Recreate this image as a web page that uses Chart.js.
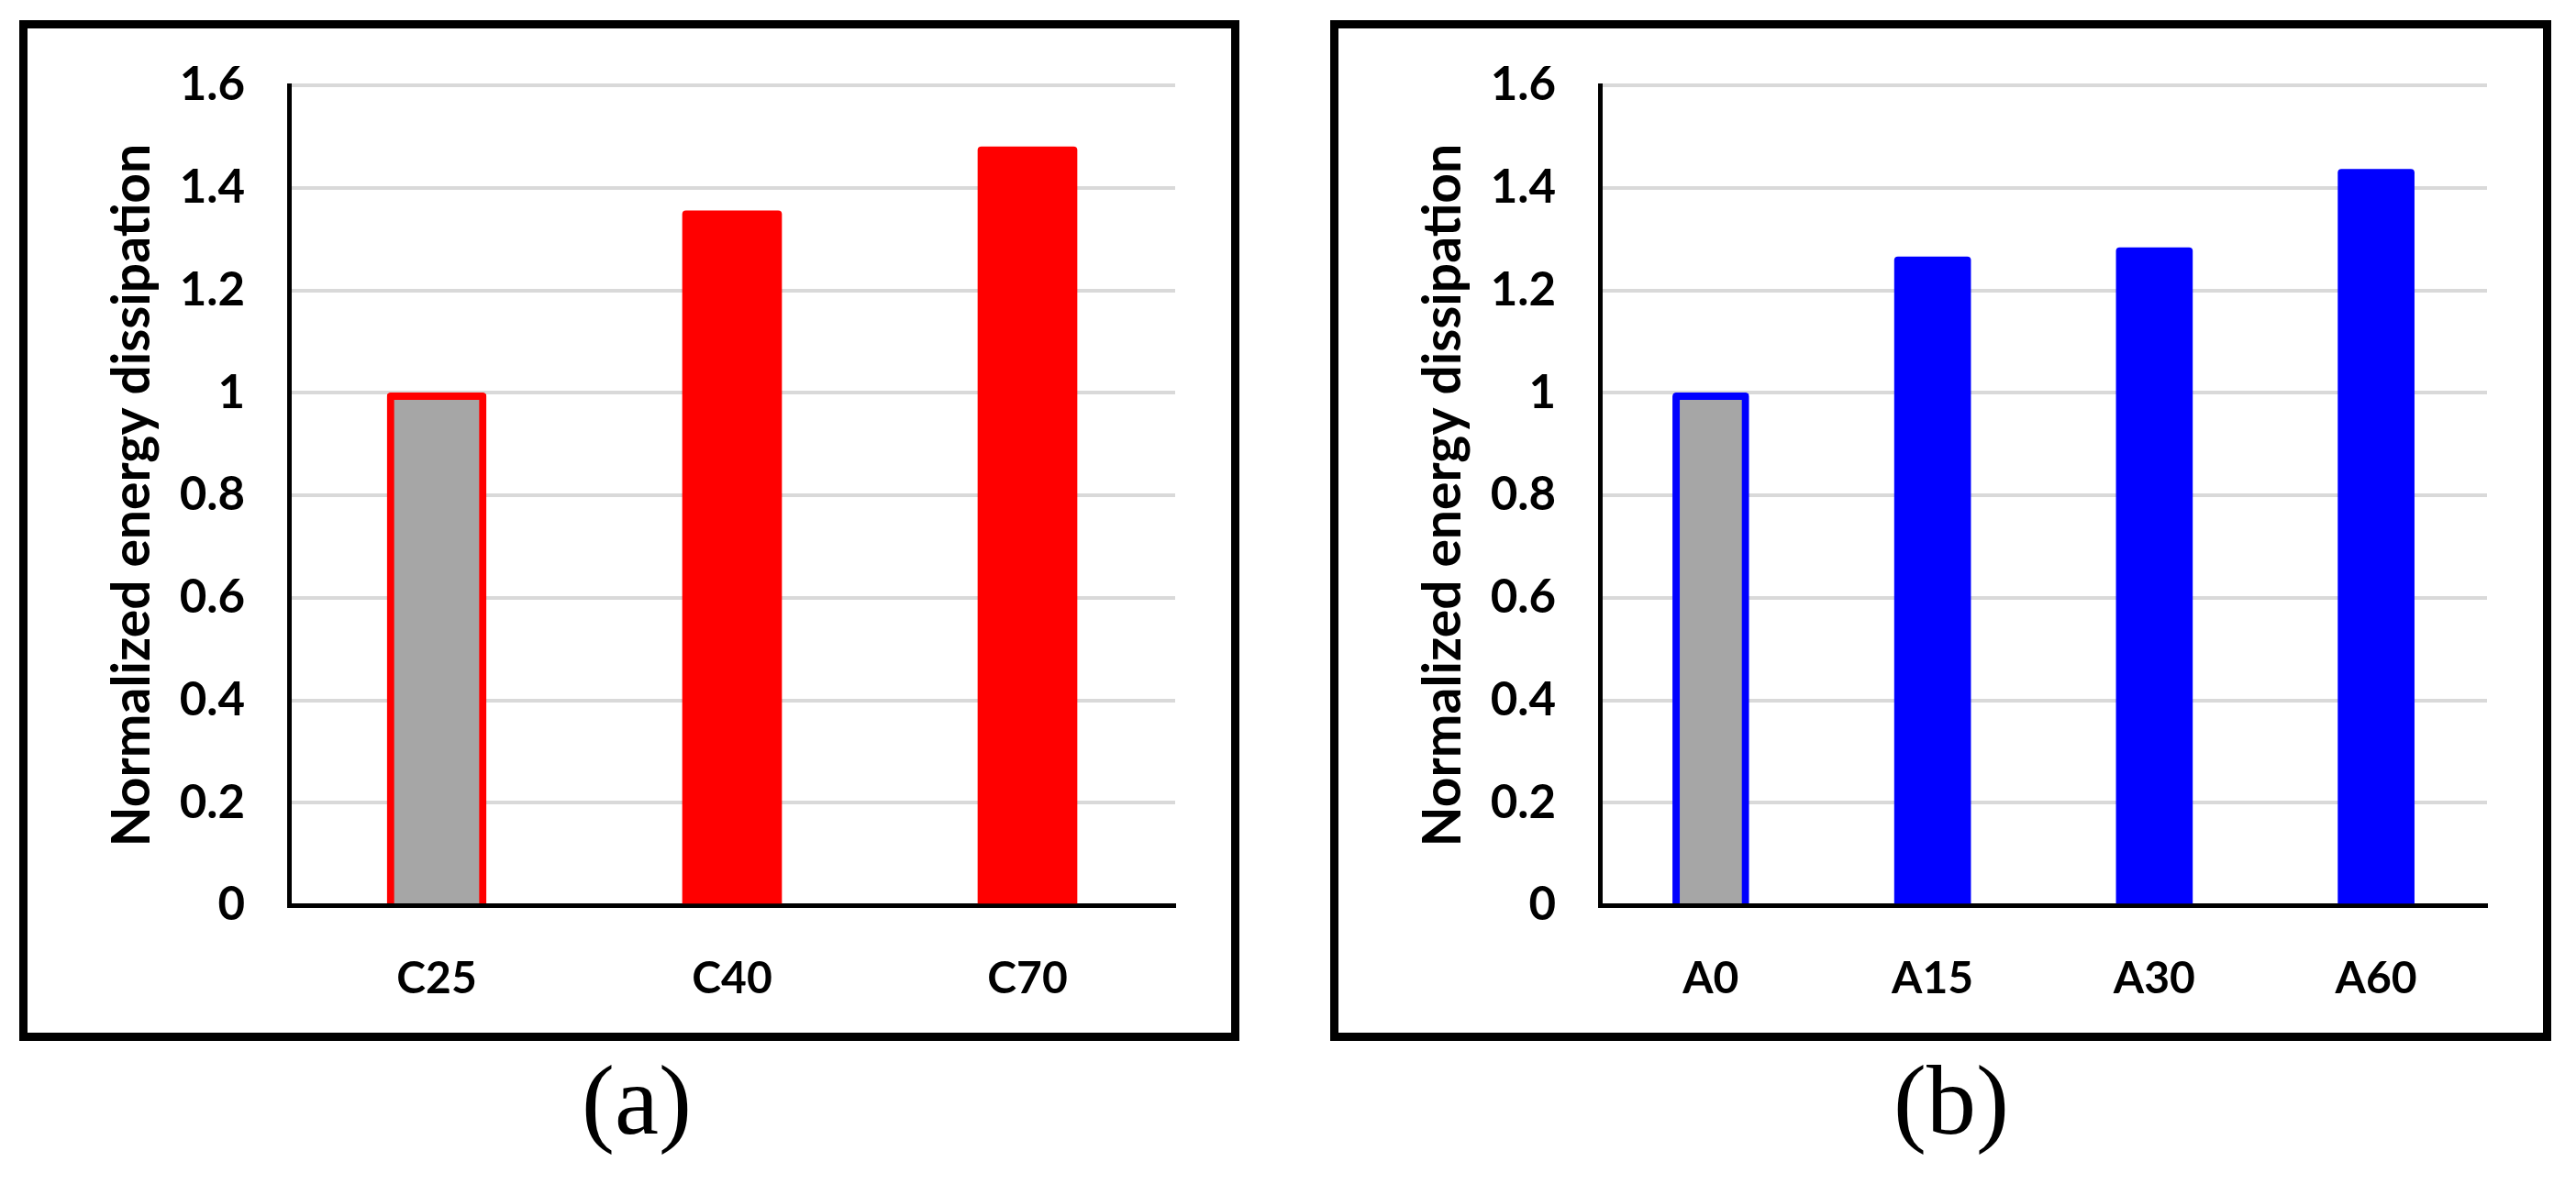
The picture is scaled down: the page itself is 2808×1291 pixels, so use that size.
<!DOCTYPE html>
<html><head><meta charset="utf-8">
<script src="https://cdn.jsdelivr.net/npm/chart.js@4"></script>
<style>
html,body{margin:0;padding:0;background:#fff;}
body{width:2808px;height:1291px;position:relative;overflow:hidden;}
.box{position:absolute;border:9px solid #000;box-sizing:border-box;background:#fff;}
.inner{position:absolute;left:0;top:0;}
.cap{position:absolute;font-family:'Liberation Serif',serif;font-size:108px;line-height:108px;text-align:center;width:400px;color:#000;}
</style></head>
<body>
<div class="box" style="left:21px;top:22px;width:1330px;height:1113px;"><div class="inner" style="width:1312px;height:1095px;"><canvas id="c1"></canvas></div></div>
<div class="box" style="left:1450px;top:22px;width:1331px;height:1113px;"><div class="inner" style="width:1313px;height:1095px;"><canvas id="c2"></canvas></div></div>
<div class="cap" id="capA" style="left:494px;top:1146px;"></div>
<div class="cap" id="capB" style="left:1927px;top:1146px;"></div>
<script>
const panelACategories = ['C25', 'C40', 'C70'];
const panelAValues = [1.0, 1.355, 1.48];
const panelBCategories = ['A0', 'A15', 'A30', 'A60'];
const panelBValues = [1.0, 1.265, 1.283, 1.436];
const yTickLabels = ['0', '0.2', '0.4', '0.6', '0.8', '1', '1.2', '1.4', '1.6'];
const yAxisTitle = 'Normalized energy dissipation';
const panelCaptions = ['(a)', '(b)'];

document.getElementById('capA').textContent = panelCaptions[0];
document.getElementById('capB').textContent = panelCaptions[1];

function makeChart(id, labels, values, mainColor, thickness) {
  const fills = values.map((v, i) => i === 0 ? '#A6A6A6' : mainColor);
  const widths = values.map((v, i) => i === 0 ? 8 : 0);
  return new Chart(document.getElementById(id), {
    type: 'bar',
    data: {
      labels: labels,
      datasets: [{
        data: values,
        backgroundColor: fills,
        borderColor: mainColor,
        borderWidth: widths,
        barThickness: thickness,
        borderRadius: {topLeft: 4, topRight: 4, bottomLeft: 0, bottomRight: 0},
        borderSkipped: 'start'
      }]
    },
    options: {
      responsive: true,
      maintainAspectRatio: false,
      animation: false,
      devicePixelRatio: 1,
      layout: {padding: {top: 62, right: 61, left: 0, bottom: 0}},
      plugins: {legend: {display: false}, tooltip: {enabled: false}},
      scales: {
        x: {
          grid: {display: true, drawOnChartArea: false, drawTicks: false},
          border: {display: true, color: '#000', width: 5},
          ticks: {color: '#000', font: {family: 'Lato', weight: 'bold', size: 48}, padding: 52},
          afterFit(s) { s.height = 139; s.paddingLeft = 0; s.paddingRight = 0; }
        },
        y: {
          min: 0, max: 1.6,
          ticks: {stepSize: 0.2, color: '#000', font: {family: 'Lato', weight: 'bold', size: 51}, padding: 48,
                  callback: (v, i) => yTickLabels[i]},
          grid: {color: '#D9D9D9', lineWidth: 4, drawTicks: false},
          border: {display: true, color: '#000', width: 5},
          title: {display: true, text: yAxisTitle, color: '#000',
                  font: {family: 'Lato', weight: 'bold', size: 57}, padding: {top: 80, bottom: 0}},
          afterFit(s) { s.width = 285; s.paddingTop = 0; s.paddingBottom = 0; }
        }
      }
    }
  });
}
makeChart('c1', panelACategories, panelAValues, '#FF0000', 108);
makeChart('c2', panelBCategories, panelBValues, '#0000FF', 83);
</script>
</body></html>
